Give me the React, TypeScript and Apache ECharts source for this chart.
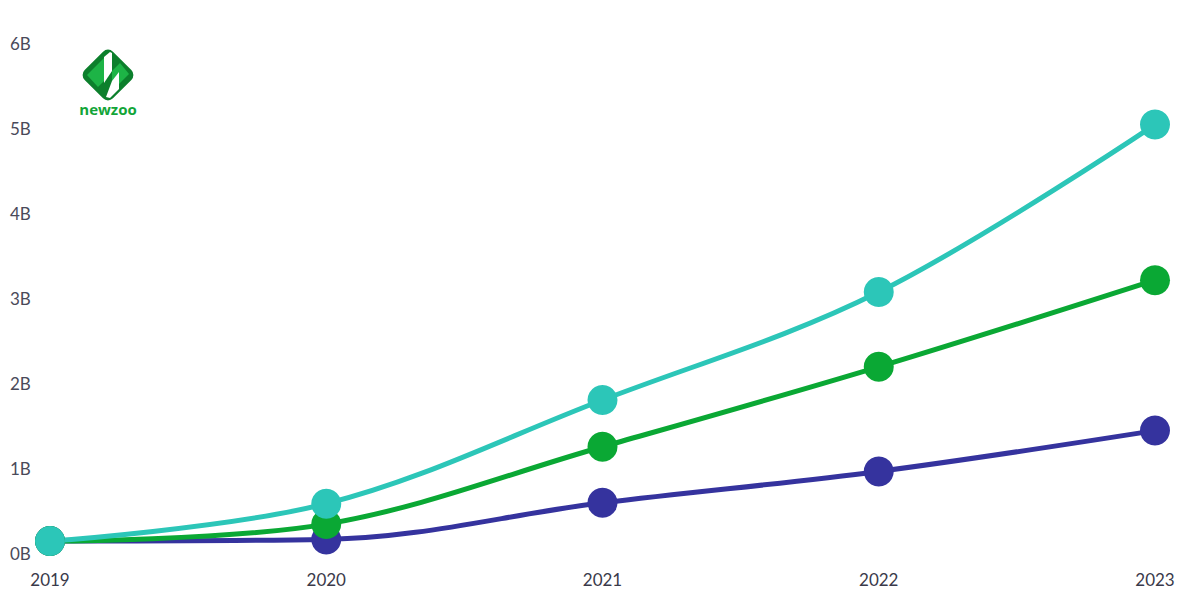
import React, { useEffect, useRef } from "react";
import * as echarts from "echarts";

const years = ["2019", "2020", "2021", "2022", "2023"];
const yTicks = ["0B", "1B", "2B", "3B", "4B", "5B", "6B"];
const navySeries = [0.14, 0.16, 0.59, 0.96, 1.44];
const greenSeries = [0.14, 0.34, 1.25, 2.19, 3.21];
const tealSeries = [0.14, 0.58, 1.8, 3.07, 5.04];

const NAVY = "#35339E";
const GREEN = "#0AA834";
const TEAL = "#2CC6B8";

function mkSeries(name: string, data: number[], color: string) {
  return {
    name,
    type: "line",
    data,
    smooth: 0.35,
    symbol: "circle",
    symbolSize: 30,
    lineStyle: { color, width: 5 },
    itemStyle: { color },
    emphasis: { disabled: true },
  };
}

export default function App() {
  const ref = useRef<HTMLDivElement>(null);
  useEffect(() => {
    if (!ref.current) return;
    const chart = echarts.init(ref.current, null, { renderer: "svg" });
    const S = 40;
    const H = (S * Math.SQRT2) / 2;
    chart.setOption({
      animation: false,
      backgroundColor: "#ffffff",
      grid: { left: 50, right: 45, top: 43, bottom: 47, containLabel: false },
      xAxis: {
        type: "category",
        data: years,
        boundaryGap: false,
        axisLine: { show: false },
        axisTick: { show: false },
        axisLabel: {
          color: "#3a3a4a",
          fontSize: 17,
          fontFamily: "Lato, 'Open Sans', sans-serif",
          margin: 18,
          interval: 0,
        },
      },
      yAxis: {
        type: "value",
        min: 0,
        max: 6,
        interval: 1,
        splitLine: { show: false },
        axisLine: { show: false },
        axisTick: { show: false },
        axisLabel: {
          color: "#4a4a5a",
          fontSize: 17,
          fontFamily: "Lato, 'Open Sans', sans-serif",
          align: "left",
          margin: 40,
          formatter: (v: number) => yTicks[Math.round(v)] ?? "",
        },
      },
      series: [
        mkSeries("navy", navySeries, NAVY),
        mkSeries("green", greenSeries, GREEN),
        mkSeries("teal", tealSeries, TEAL),
      ],
      graphic: [
        {
          type: "group",
          x: 108,
          y: 75,
          children: [
            {
              type: "rect",
              x: 0,
              y: -H,
              rotation: -Math.PI / 4,
              shape: { x: 0, y: 0, width: S, height: S, r: 7 },
              style: { fill: "#0C7F2C" },
            },
            {
              type: "polygon",
              shape: { points: [[-21, 0], [-4, -17], [-4, 6], [-10, 12]] },
              style: { fill: "#1DB446" },
            },
            {
              type: "polygon",
              shape: { points: [[4, -4], [12, -12], [21, -1], [4, 16]] },
              style: { fill: "#1DB446" },
            },
            {
              type: "polygon",
              shape: { points: [[-4, -18], [2, -23], [4, -22], [4, -4], [-4, 8]] },
              style: { fill: "#ffffff" },
            },
            {
              type: "polygon",
              shape: { points: [[4, 6], [11, -3], [11, 14], [2, 23], [-2, 22]] },
              style: { fill: "#ffffff" },
            },
          ],
        },
        {
          type: "text",
          x: 108,
          y: 109,
          style: {
            text: "newzoo",
            fill: "#12A538",
            fontSize: 15,
            fontWeight: "bold",
            fontFamily: "'Open Sans', Lato, sans-serif",
            align: "center",
            verticalAlign: "middle",
          },
        },
      ],
    });
    return () => chart.dispose();
  }, []);
  return <div ref={ref} style={{ width: 1200, height: 600, position: "absolute", left: 0, top: 0 }} />;
}
